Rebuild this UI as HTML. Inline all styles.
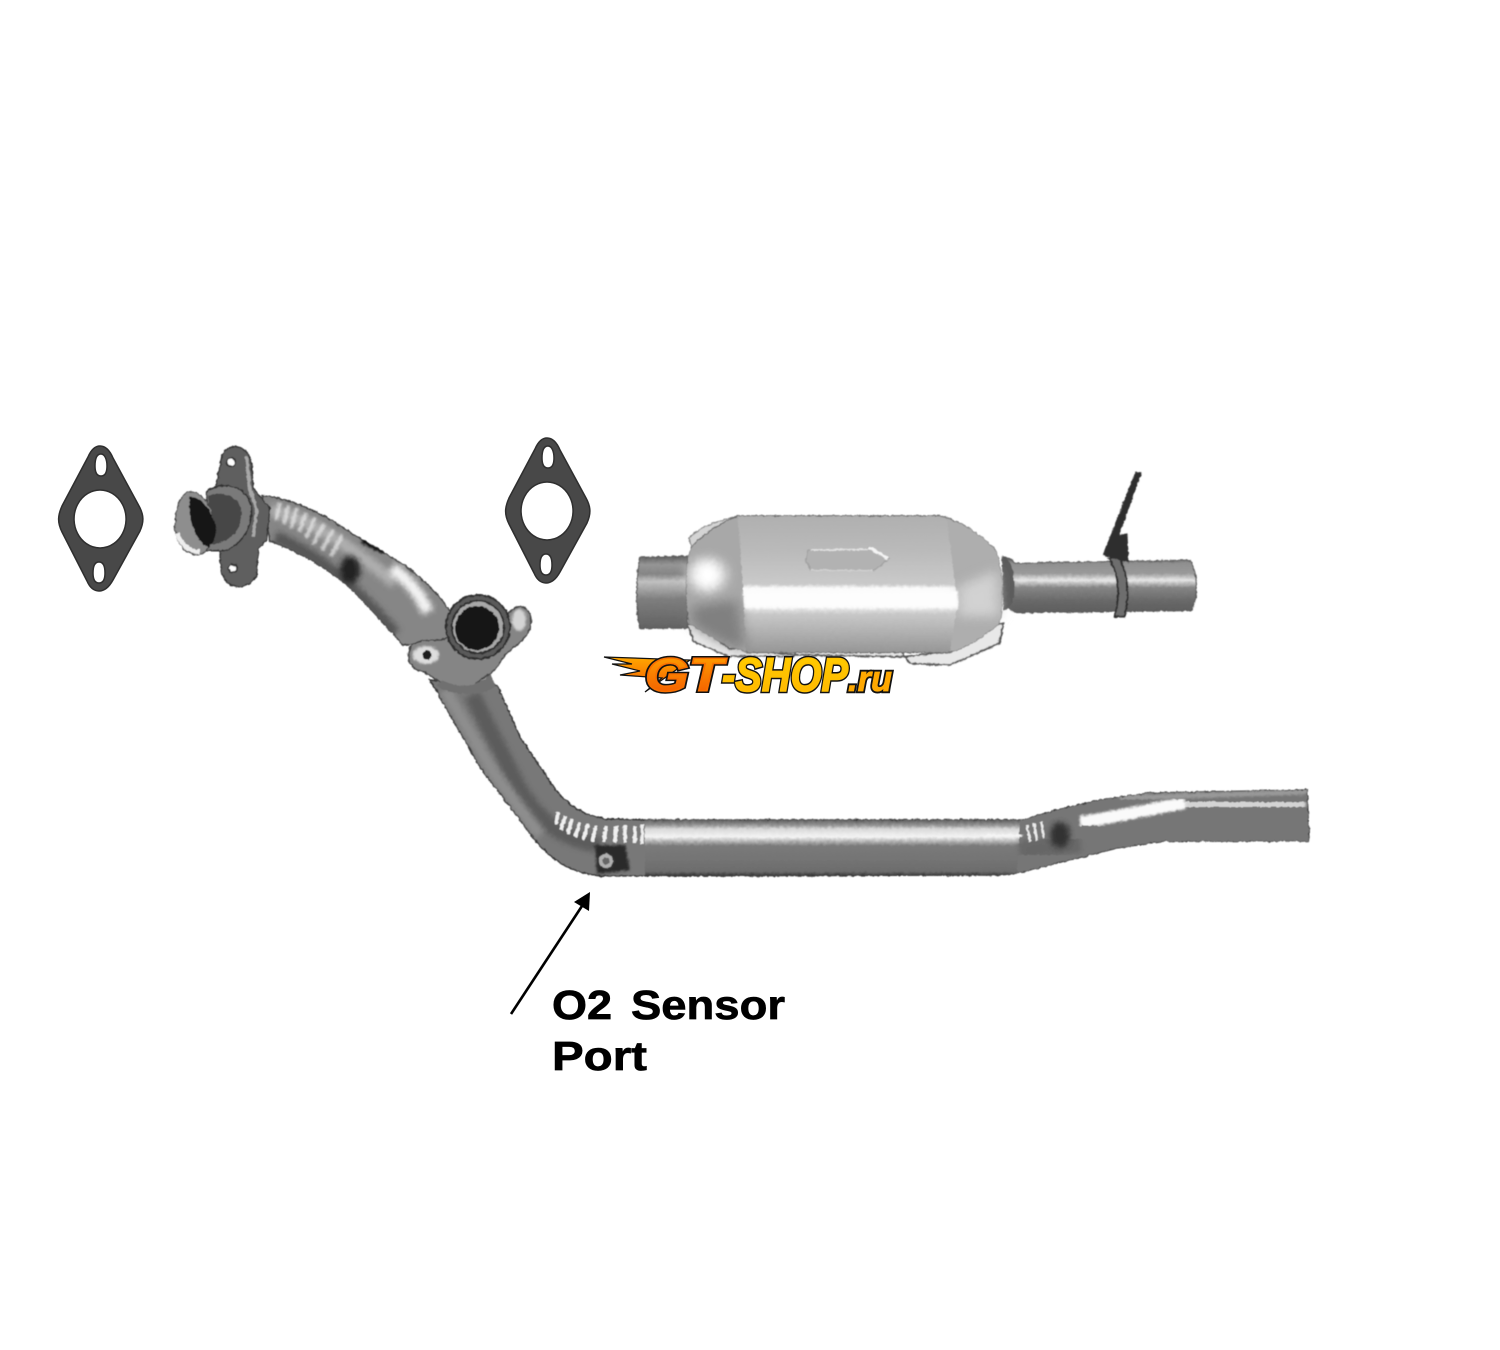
<!DOCTYPE html>
<html><head><meta charset="utf-8"><title>O2 Sensor Port</title>
<style>html,body{margin:0;padding:0;background:#fff;width:1500px;height:1350px;overflow:hidden}svg{display:block}</style></head>
<body>
<svg xmlns="http://www.w3.org/2000/svg" width="1500" height="1350" viewBox="0 0 1500 1350">
<defs>
<filter id="b1" x="-20%" y="-20%" width="140%" height="140%"><feGaussianBlur stdDeviation="1"/></filter>
<filter id="b3" x="-30%" y="-30%" width="160%" height="160%"><feGaussianBlur stdDeviation="3"/></filter>
<filter id="b5" x="-60%" y="-60%" width="220%" height="220%"><feGaussianBlur stdDeviation="16"/></filter>
<filter id="rough" x="-5%" y="-5%" width="110%" height="110%"><feTurbulence type="fractalNoise" baseFrequency=".25" numOctaves="2" seed="4" result="n"/><feDisplacementMap in="SourceGraphic" in2="n" scale="3" xChannelSelector="R" yChannelSelector="G"/><feGaussianBlur stdDeviation=".5"/></filter>
<linearGradient id="pipeH" x1="0" y1="0" x2="0" y2="1">
<stop offset="0" stop-color="#5e5e5e"/><stop offset=".1" stop-color="#9a9a9a"/><stop offset=".16" stop-color="#d8d8d8"/><stop offset=".3" stop-color="#f4f4f4"/><stop offset=".38" stop-color="#b4b4b4"/><stop offset=".46" stop-color="#7a7a7a"/><stop offset=".7" stop-color="#747474"/><stop offset=".92" stop-color="#6c6c6c"/><stop offset="1" stop-color="#333"/>
</linearGradient>
<linearGradient id="nozzleL" x1="0" y1="0" x2="0" y2="1">
<stop offset="0" stop-color="#5e5e5e"/><stop offset=".12" stop-color="#969696"/><stop offset=".25" stop-color="#858585"/><stop offset=".35" stop-color="#c2c2c2"/><stop offset=".6" stop-color="#7e7e7e"/><stop offset="1" stop-color="#626262"/>
</linearGradient>
<linearGradient id="nozzleR" x1="0" y1="0" x2="0" y2="1">
<stop offset="0" stop-color="#4a4a4a"/><stop offset=".12" stop-color="#909090"/><stop offset=".3" stop-color="#9a9a9a"/><stop offset=".42" stop-color="#e8e8e8"/><stop offset=".55" stop-color="#868686"/><stop offset=".8" stop-color="#686868"/><stop offset="1" stop-color="#5e5e5e"/>
</linearGradient>
<linearGradient id="body" x1="0" y1="0" x2="0" y2="1">
<stop offset="0" stop-color="#b0b0b0"/><stop offset=".25" stop-color="#bababa"/><stop offset=".5" stop-color="#cacaca"/><stop offset=".53" stop-color="#fcfcfc"/><stop offset=".66" stop-color="#f2f2f2"/><stop offset=".72" stop-color="#c8c8c8"/><stop offset="1" stop-color="#969696"/>
</linearGradient>
<linearGradient id="logoO" x1="0" y1="0" x2="0" y2="1"><stop offset="0" stop-color="#ffa800"/><stop offset="1" stop-color="#f25500"/></linearGradient>
<linearGradient id="logoY" x1="0" y1="0" x2="0" y2="1"><stop offset="0" stop-color="#ffd000"/><stop offset="1" stop-color="#ffb400"/></linearGradient>
<clipPath id="upClip"><path d="M262 496 C285 497 320 510 357 537 C385 552 425 575 447 607 L470 640 L403 645 C385 625 370 607 347 585 C325 567 300 552 270 541 Z"/></clipPath>
<clipPath id="lowClip"><path d="M430 680 L497 685 L520 737 L547 777 C560 800 580 815 605 819 L647 820 L1023 820 L1057 810 L1100 800 L1150 793 L1307 790 L1309 841 L1163 841 L1117 848 L1077 858 L1017 873 L1000 875 L602 876 C570 873 552 860 535 840 L480 767 Z"/></clipPath>
</defs>

<!-- gasket left -->
<path fill-rule="evenodd" fill="#484848" stroke="#2e2e2e" stroke-width="1.5" d="M100 446 C106 446 110 451 113 458 L139 506 C144 515 144 522 140 531 L113 580 C108 589 103 591 99 591 C94 591 90 588 87 581 L62 532 C57 522 58 515 62 506 L88 457 C91 450 95 446 100 446 Z
M100 490 A26 29 0 1 0 100.1 490 Z M101 454 C96 454 95 460 95 466 C95 473 97 476 101 476 C105 476 107 473 107 466 C107 460 105 454 101 454 Z M99 562 C95 562 93 566 93 573 C93 580 95 583 99 583 C103 583 105 580 105 573 C105 566 103 562 99 562 Z"/>
<!-- gasket right -->
<g transform="translate(447 -8)">
<path fill-rule="evenodd" fill="#484848" stroke="#2e2e2e" stroke-width="1.5" d="M100 446 C106 446 110 451 113 458 L139 506 C144 515 144 522 140 531 L113 580 C108 589 103 591 99 591 C94 591 90 588 87 581 L62 532 C57 522 58 515 62 506 L88 457 C91 450 95 446 100 446 Z
M100 490 A26 29 0 1 0 100.1 490 Z M101 454 C96 454 95 460 95 466 C95 473 97 476 101 476 C105 476 107 473 107 466 C107 460 105 454 101 454 Z M99 562 C95 562 93 566 93 573 C93 580 95 583 99 583 C103 583 105 580 105 573 C105 566 103 562 99 562 Z"/>
</g>

<g filter="url(#rough)">
<!-- upper pipe -->
<path d="M262 496 C285 497 320 510 357 537 C385 552 425 575 447 607 L470 640 L403 645 C385 625 370 607 347 585 C325 567 300 552 270 541 Z" fill="#868686" stroke="#444" stroke-width="1.5"/>
<g clip-path="url(#upClip)">
<path d="M270 510 C310 518 350 546 395 583" fill="none" stroke="#aeaeae" stroke-width="12" filter="url(#b3)"/>
<path d="M275 537 C315 554 350 582 395 634" fill="none" stroke="#575757" stroke-width="13" filter="url(#b3)"/>
<path d="M392 568 C405 578 418 590 428 612" fill="none" stroke="#f4f4f4" stroke-width="12" filter="url(#b3)"/>
<g stroke="#e8e8e8" stroke-width="4" opacity=".75" filter="url(#b1)">
<path d="M280 503 L276 520"/><path d="M288 506 L284 524"/><path d="M297 508 L291 528"/><path d="M306 513 L299 532"/><path d="M315 518 L306 538"/><path d="M324 524 L313 544"/><path d="M333 530 L322 550"/><path d="M342 536 L331 556"/>
</g>
<ellipse cx="350" cy="570" rx="10" ry="14" fill="#222" filter="url(#b3)"/>
<path d="M362 540 L385 552" stroke="#111" stroke-width="6" filter="url(#b1)"/>
</g>

<!-- left flange (coordinates from 3x crop) -->
<g transform="translate(40 420) scale(.3333)">
<path d="M590 80 C620 85 635 110 635 140 L640 205 L690 265 L680 360 L655 385 L650 470 C625 500 590 510 565 490 C545 475 540 440 540 390 L530 370 L510 300 L530 190 L545 110 C555 90 570 78 590 80 Z" fill="#5f5f5f" stroke="#333" stroke-width="4"/>
<path d="M620 110 L628 200 L650 270 L640 350" fill="none" stroke="#a8a8a8" stroke-width="10" filter="url(#b1)"/>
<path d="M500 215 C540 185 610 190 632 250 C645 300 615 375 550 392 L500 392 Z" fill="#7a7a7a" stroke="#333" stroke-width="5"/>
<path d="M505 228 C540 212 590 225 603 265 C610 310 590 355 530 372 L505 372 Z" fill="#464646"/>
<circle cx="573" cy="126" r="13" fill="#fff" stroke="#333" stroke-width="5"/>
<circle cx="578" cy="445" r="13" fill="#fff" stroke="#333" stroke-width="5"/>
<!-- spout -->
<path d="M445 215 C490 215 515 260 525 310 C528 350 510 395 475 405 C440 405 410 375 405 330 C405 280 415 225 445 215 Z" fill="#8e8e8e" stroke="#444" stroke-width="3"/>
<path d="M450 228 C490 232 520 280 527 320 C530 345 522 368 505 382 C465 365 440 290 450 228 Z" fill="#181818"/>
<path d="M412 340 C420 370 445 395 480 395" fill="none" stroke="#eee" stroke-width="14" filter="url(#b1)"/>
</g>

<!-- lower pipe -->
<path d="M430 680 L497 685 L520 737 L547 777 C560 800 580 815 605 819 L647 820 L1023 820 L1057 810 L1100 800 L1150 793 L1307 790 L1309 841 L1163 841 L1117 848 L1077 858 L1017 873 L1000 875 L602 876 C570 873 552 860 535 840 L480 767 Z" fill="#787878" stroke="#333" stroke-width="1.5"/>
<g clip-path="url(#lowClip)">
<path d="M472 695 L520 790 C545 830 570 840 600 845" fill="none" stroke="#5c5c5c" stroke-width="16" filter="url(#b3)"/>
<path d="M445 690 L495 775 L540 835" fill="none" stroke="#8e8e8e" stroke-width="12" filter="url(#b3)"/>
<rect x="645" y="820" width="380" height="56" fill="url(#pipeH)"/>
<path d="M1020 820 L1057 810 L1100 800 L1150 793 L1307 790 L1309 841 L1163 841 L1117 848 L1077 858 L1017 873 Z" fill="#767676"/>
<path d="M1165 806 C1200 802 1250 802 1305 804" fill="none" stroke="#d4d4d4" stroke-width="12" filter="url(#b1)"/>
<path d="M1080 822 C1100 820 1125 814 1185 803" fill="none" stroke="#fafafa" stroke-width="12" filter="url(#b1)"/>
<path d="M1120 798 L1307 792" stroke="#9a9a9a" stroke-width="5" filter="url(#b1)"/>
<path d="M1020 852 L1080 842" stroke="#666" stroke-width="20" filter="url(#b3)"/>
<ellipse cx="1060" cy="835" rx="10" ry="13" fill="#333" filter="url(#b3)"/>
<path d="M985 835 L1022 836" stroke="#f4f4f4" stroke-width="10" filter="url(#b1)"/>
<g stroke="#ececec" stroke-width="2.5"><path d="M1027 825 L1030 842"/><path d="M1034 823 L1037 840"/><path d="M1041 822 L1044 838"/></g>
<g stroke="#f0f0f0" stroke-width="3.5"><path d="M558 812 L556 825"/><path d="M565 816 L561 830"/><path d="M572 819 L568 834"/><path d="M580 822 L575 837"/><path d="M588 824 L583 840"/><path d="M596 826 L592 842"/><path d="M606 826 L604 842"/><path d="M616 826 L615 843"/><path d="M625 826 L625 843"/><path d="M635 826 L635 843"/><path d="M642 824 L642 844"/></g>
<path d="M595 845 L625 845 L630 870 L597 874 Z" fill="#2a2a2a" filter="url(#b1)"/>
<circle cx="606" cy="861" r="8" fill="#b0b0b0" stroke="#333" stroke-width="2"/>
<circle cx="606" cy="861" r="3.5" fill="#666"/>
</g>

<!-- pipe end ring and flange -->
<path d="M410 648 C415 640 428 640 442 640 L510 612 C520 600 532 610 531 622 C529 640 515 645 505 655 L495 670 L470 688 C450 690 435 680 425 672 C412 670 405 660 410 648 Z" fill="#858585" stroke="#444" stroke-width="1.5"/>
<path d="M442 680 C455 688 480 688 490 673 L496 686 C480 698 450 695 437 686 Z" fill="#6f6f6f"/>
<ellipse cx="519" cy="620" rx="7" ry="11" fill="#d4d4d4" filter="url(#b1)"/>
<ellipse cx="426" cy="655" rx="13" ry="9" fill="#dedede" filter="url(#b1)"/>
<circle cx="427" cy="655" r="4.5" fill="#1c1c1c"/>
<circle cx="478" cy="627" r="32" fill="#5a5a5a" stroke="#2f2f2f" stroke-width="2"/>
<circle cx="478" cy="627" r="26" fill="#a8a8a8" stroke="#2e2e2e" stroke-width="2"/>
<circle cx="477" cy="628" r="22" fill="#191919"/>

<!-- catalytic converter: x=590+zx/2.516, y=460+zy/3 -->
<g transform="translate(590 460) scale(.3975 .3333)">
<path d="M125 292 L245 288 L245 505 L125 505 C115 440 115 350 125 292 Z" fill="url(#nozzleL)" stroke="#555" stroke-width="3"/>
<path d="M1040 290 L1060 298 L1070 310 L1510 300 C1530 340 1530 420 1512 452 L1070 458 L1045 440 Z" fill="url(#nozzleR)" stroke="#555" stroke-width="3"/>
<path d="M1036 290 C1055 295 1065 320 1068 370 C1068 420 1062 445 1040 452 Z" fill="#5a5a5a"/>
<!-- top brackets -->
<path d="M250 235 C270 200 320 185 370 168 L330 215 L255 270 Z" fill="#d4d4d4" stroke="#777" stroke-width="3"/>
<path d="M890 170 C930 185 975 215 1020 270 L960 240 Z" fill="#d4d4d4" stroke="#777" stroke-width="3"/>
<!-- bottom bracket -->
<path d="M245 492 L262 545 L345 588 L510 590 L525 565 L775 565 L805 610 L905 615 L1030 550 L1040 490 L1000 500 L905 575 L790 590 L520 585 L350 565 L265 490 Z" fill="#e8e8e8" stroke="#555" stroke-width="5"/>
<!-- body -->
<path d="M250 275 C262 245 300 205 372 167 L882 167 C930 185 990 225 1022 275 C1040 340 1040 430 1030 490 C1000 520 950 565 900 578 L400 578 C340 560 290 520 250 490 C240 420 240 340 250 275 Z" fill="url(#body)" stroke="#666" stroke-width="3"/>
<path d="M250 275 C262 245 310 205 372 170 L385 380 L392 575 C340 560 290 520 250 490 C240 420 240 340 250 275 Z" fill="#a8a8a8"/>
<ellipse cx="295" cy="345" rx="45" ry="50" fill="#ffffff" filter="url(#b5)"/>
<path d="M255 440 L370 420 L392 570 C340 555 290 520 255 490 Z" fill="#808080" filter="url(#b5)"/>
<path d="M898 175 C935 190 990 225 1022 275 C1040 340 1040 430 1030 490 C1000 520 950 565 905 575 L925 430 Z" fill="#aeaeae"/>
<path d="M925 380 L1025 330 L1030 470 L925 470 Z" fill="#d2d2d2" filter="url(#b5)"/>
<path d="M385 392 L925 392 L925 445 L390 445 Z" fill="#fdfdfd" filter="url(#b3)"/>
<!-- body arrow -->
<path d="M548 270 L705 268 L700 262 L752 295 L715 332 L555 330 L543 300 Z" fill="#b2b2b2" stroke="#a0a0a0" stroke-width="3"/>
<path d="M555 270 L700 268" stroke="#e4e4e4" stroke-width="5"/>
<path d="M702 262 L750 296" stroke="#f4f4f4" stroke-width="8"/>
<path d="M555 330 L712 332" stroke="#d4d4d4" stroke-width="4"/>
<!-- clamp -->
<path d="M1330 290 C1350 330 1360 400 1345 470 L1320 470 C1335 400 1330 340 1305 295 Z" fill="#6e6e6e" stroke="#2e2e2e" stroke-width="5"/>
<path d="M1372 35 L1388 37 L1332 225 L1352 220 L1356 310 L1330 300 L1290 285 Z" fill="#2f2f2f"/>
</g>
</g>

<!-- logo -->
<path d="M604 657 L690 660 L645 692 L662 678 L620 675 L640 671 L612 664 L632 664 Z" fill="url(#logoO)" stroke="#111" stroke-width="1.2"/>
<g font-family="'Liberation Sans',sans-serif" font-weight="bold" font-style="italic" stroke-linejoin="miter">
<g stroke="#111" stroke-width="4.5">
<text x="645" y="691" font-size="47" style="text-transform:uppercase" textLength="78" lengthAdjust="spacingAndGlyphs" fill="#111">gt</text>
<text x="722" y="691" font-size="47" style="text-transform:uppercase" textLength="126" lengthAdjust="spacingAndGlyphs" fill="#111">-ShOP</text>
<text x="848" y="691" font-size="36" textLength="44" lengthAdjust="spacingAndGlyphs" fill="#111">.ru</text>
</g>
<text x="645" y="691" font-size="47" style="text-transform:uppercase" textLength="78" lengthAdjust="spacingAndGlyphs" fill="url(#logoO)" stroke="#f87000" stroke-width="1.5">gt</text>
<text x="722" y="691" font-size="47" style="text-transform:uppercase" textLength="126" lengthAdjust="spacingAndGlyphs" fill="url(#logoY)" stroke="#ffc000" stroke-width="1.5">-ShOP</text>
<text x="848" y="691" font-size="36" textLength="44" lengthAdjust="spacingAndGlyphs" fill="#ffa800" stroke="#ffa800" stroke-width=".8">.ru</text>
</g>

<!-- annotation -->
<path d="M511 1014 L582 906" stroke="#000" stroke-width="2.6" fill="none"/>
<path d="M590 892 L574 902 L589 911 Z" fill="#000"/>
<g font-family="'Liberation Sans',sans-serif" font-weight="bold" font-size="41" fill="#000" stroke="#000" stroke-width=".7">
<text x="552" y="1019" textLength="60" lengthAdjust="spacingAndGlyphs">O2</text>
<text x="631" y="1019" textLength="154" lengthAdjust="spacingAndGlyphs">Sensor</text>
<text x="552" y="1070" textLength="95" lengthAdjust="spacingAndGlyphs">Port</text>
</g>
</svg>
</body></html>
